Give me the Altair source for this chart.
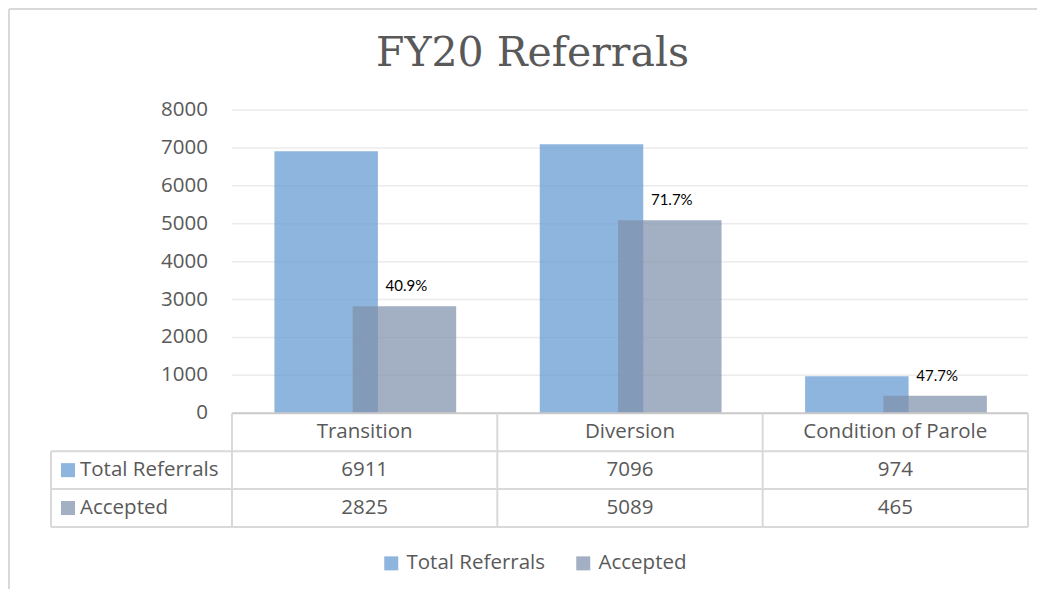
import altair as alt
import pandas as pd

# ---- data ----
categories = ["Transition", "Diversion", "Condition of Parole"]
series = ["Total Referrals", "Accepted"]
total_referrals = [6911, 7096, 974]
accepted = [2825, 5089, 465]
y_ticks = [0, 1000, 2000, 3000, 4000, 5000, 6000, 7000, 8000]

# ---- styling ----
TEXT = "#595959"
GRID = "#EBEBEB"
BORDER = "#D9D9D9"
COLORS = ["#6399D1", "#8090AA"]   # drawn at 0.72 opacity
OPAC = 0.72
FONT = "Open Sans"
FS = 20.5

W, H = 977, 417
LEFT_COL = 0.682             # width of the table's label column, in band units
ROW = 1000                   # table row height, in y units
n = len(categories)

# bar offsets within a band (layout, not data)
offsets = {"Total Referrals": (0.16, 0.55), "Accepted": (0.455, 0.845)}

rows = []
for i, c in enumerate(categories):
    for s, vals in zip(series, [total_referrals, accepted]):
        rows.append({"idx": i, "category": c, "series": s, "value": vals[i],
                     "x0": i + offsets[s][0], "x1": i + offsets[s][1]})
bars = pd.DataFrame(rows)

pct = pd.DataFrame({
    "xc": [i + (offsets["Accepted"][0] + offsets["Accepted"][1]) / 2 for i in range(n)],
    "value": accepted,
    "label": [f"{a / t * 100:.1f}%" for a, t in zip(accepted, total_referrals)],
})

xs = alt.Scale(domain=[-LEFT_COL, n], nice=False, zero=False)
ys = alt.Scale(domain=[-3 * ROW, y_ticks[-1]], nice=False, zero=False)
cs = alt.Scale(domain=series, range=COLORS)

def X(f):
    return alt.X(f, type="quantitative", scale=xs, axis=None)

def Y(f):
    return alt.Y(f, type="quantitative", scale=ys, axis=None)

# gridlines
grid_df = pd.DataFrame({"y": y_ticks[1:], "x0": 0, "x1": n})
grid = alt.Chart(grid_df).mark_rule(color=GRID, strokeWidth=1.5).encode(
    x=X("x0"), x2="x1", y=Y("y"))

legend = alt.Legend(title=None, orient="none", legendX=330, legendY=443,
                    direction="horizontal", symbolType="square", symbolSize=196,
                    symbolOpacity=OPAC, symbolStrokeWidth=0, labelFont=FONT,
                    labelFontSize=FS, labelColor=TEXT, labelOffset=5,
                    columnPadding=28)

bar_total = alt.Chart(bars[bars.series == series[0]]).mark_bar(opacity=OPAC).encode(
    x=X("x0"), x2="x1", y=Y("value"), y2=alt.datum(0),
    color=alt.Color("series:N", scale=cs, legend=legend))
bar_acc = alt.Chart(bars[bars.series == series[1]]).mark_bar(opacity=OPAC).encode(
    x=X("x0"), x2="x1", y=Y("value"), y2=alt.datum(0),
    color=alt.Color("series:N", scale=cs, legend=legend))

pct_text = alt.Chart(pct).mark_text(font="Lato", fontSize=15, color="#000000",
                                    baseline="bottom", dy=-12, dx=2).encode(
    x=X("xc"), y=Y("value"), text="label:N")

# y labels
ylab = alt.Chart(pd.DataFrame({"y": y_ticks, "x": 0})).mark_text(
    font=FONT, fontSize=FS, color=TEXT, align="right", baseline="middle", dx=-24).encode(
    x=X("x"), y=Y("y"), text=alt.Text("y:Q", format="d"))

# table lines
h_lines = pd.DataFrame({
    "y": [0, -ROW, -2 * ROW, -3 * ROW],
    "x0": [0, -LEFT_COL, -LEFT_COL, -LEFT_COL],
    "x1": [n, n, n, n],
    "c": ["axis", "t", "t", "t"],
})
hl = alt.Chart(h_lines).mark_rule(strokeWidth=2).encode(
    x=X("x0"), x2="x1", y=Y("y"),
    stroke=alt.Stroke("c:N", scale=alt.Scale(domain=["axis", "t"], range=["#C9C9C9", BORDER]),
                      legend=None))
v_lines = pd.DataFrame({
    "x": [-LEFT_COL] + list(range(n + 1)),
    "y0": [-ROW] + [0] * (n + 1),
    "y1": [-3 * ROW] * (n + 2),
})
vl = alt.Chart(v_lines).mark_rule(strokeWidth=2, color=BORDER).encode(
    x=X("x"), y=Y("y0"), y2="y1")

# table text
cat_df = pd.DataFrame({"x": [i + 0.5 for i in range(n)], "y": -ROW / 2, "t": categories})
cat_text = alt.Chart(cat_df).mark_text(font=FONT, fontSize=FS, color=TEXT, baseline="middle").encode(
    x=X("x"), y=Y("y"), text="t:N")

val_rows = []
for r, (s, vals) in enumerate(zip(series, [total_referrals, accepted])):
    for i, v in enumerate(vals):
        val_rows.append({"x": i + 0.5, "y": -ROW * (r + 1.5), "t": str(v)})
val_text = alt.Chart(pd.DataFrame(val_rows)).mark_text(
    font=FONT, fontSize=FS, color=TEXT, baseline="middle").encode(
    x=X("x"), y=Y("y"), text="t:N")

key_df = pd.DataFrame({"series": series,
                       "y": [-ROW * (r + 1.5) for r in range(len(series))],
                       "xs": -LEFT_COL + 17 / (W / (n + LEFT_COL)),
                       "xt": -LEFT_COL + 29 / (W / (n + LEFT_COL))})
key_sq = alt.Chart(key_df).mark_point(shape="square", filled=True, size=196,
                                      opacity=OPAC).encode(
    x=X("xs"), y=Y("y"), color=alt.Color("series:N", scale=cs, legend=None))
key_txt = alt.Chart(key_df).mark_text(font=FONT, fontSize=FS, color=TEXT, align="left",
                                      baseline="middle").encode(
    x=X("xt"), y=Y("y"), text="series:N")

# outer frame (decoration)
frame_top = alt.Chart(pd.DataFrame({"a": [0]})).mark_rule(color=BORDER, strokeWidth=2).encode(
    x=alt.value(-42), x2=alt.value(990), y=alt.value(-101))
frame_left = alt.Chart(pd.DataFrame({"a": [0]})).mark_rule(color=BORDER, strokeWidth=2).encode(
    x=alt.value(-42), y=alt.value(-101), y2=alt.value(480))

chart = alt.layer(
    frame_top, frame_left, grid, bar_total, bar_acc, pct_text, ylab, hl, vl,
    cat_text, val_text, key_sq, key_txt,
).properties(
    width=W, height=H,
    title=alt.TitleParams("FY20 Referrals", font="DejaVu Serif", fontSize=41,
                          color=TEXT, fontWeight="normal", anchor="middle",
                          dx=-7, offset=-67),
    autosize=alt.AutoSizeParams(type="none"),
    padding={"left": 43, "top": 102, "right": 9, "bottom": 62},
).configure_view(stroke=None)

chart.save("out.html", embed_options={"renderer": "svg", "actions": False})
